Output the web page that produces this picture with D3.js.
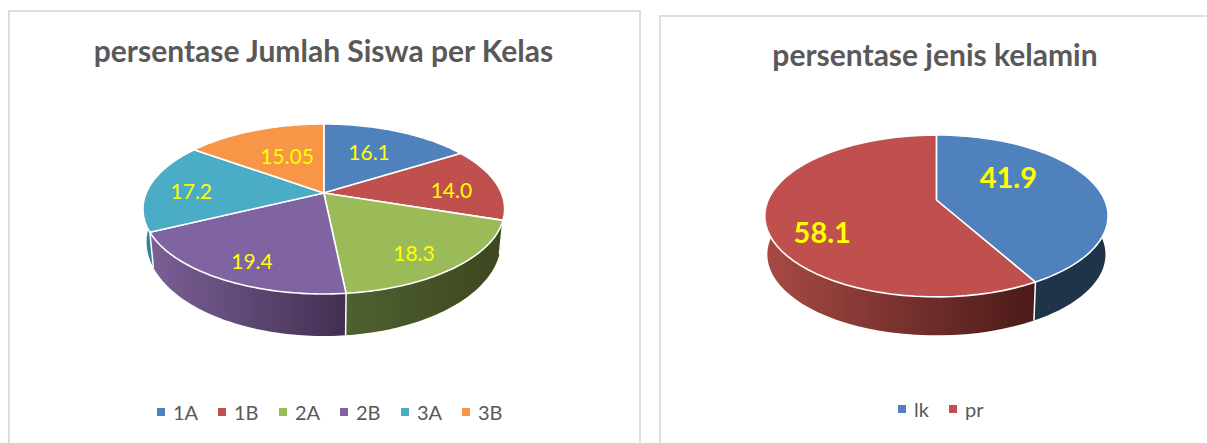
<!DOCTYPE html>
<html><head><meta charset="utf-8">
<style>html,body{margin:0;padding:0;background:#fff}svg{display:block}</style>
<script src="https://cdnjs.cloudflare.com/ajax/libs/d3/7.8.5/d3.min.js"></script>
</head><body><svg id="c" width="1207" height="443"></svg>
<script>
const classNames = ["1A","1B","2A","2B","3A","3B"];
const classValues = [16.1,14.0,18.3,19.4,17.2,15.05];
const classLabels = ["16.1","14.0","18.3","19.4","17.2","15.05"];
const genderNames = ["lk","pr"];
const genderValues = [41.9,58.1];
const genderLabels = ["41.9","58.1"];
const classColors = ["#4f81bd","#c0504d","#9bbb59","#8064a2","#4bacc6","#f79646"];
const genderColors = ["#4f81bd","#c0504d"];
const classWall = [["#2f4d71","#2f4d71"],["#772c2a","#772c2a"],["#4f6130","#3c461f"],["#7b6096","#412f51"],["#31859c","#2c7a90"],["#b65708","#b65708"]];
const genderWall = [["#1f3349","#1f3349"],["#a84a45","#4a1a18"]];
const classLabelR = [.62,.727,.783,.797,.75,.556];
const classLabelTurn = [-2,3,4,-3,-3,3];
const genderLabelR = [.56,.73];
const genderLabelTurn = [-21,-16];

const svg = d3.select("#c");
const defs = svg.append("defs");
const FONT = "Lato, 'Open Sans', sans-serif";
let gid = 0;

function panel(x, y, w){
  svg.append("path").attr("d", d3.line()([[x,443],[x,y],[x+w,y],[x+w,443]]))
    .attr("fill","none").attr("stroke","#dedede").attr("stroke-width",2);
}

function drawPie(o){
  const k=o.k, A=o.A, B=o.B;
  const proj = (u,v)=>{const d=1+k*v; return [o.cx+A*u/d, o.cy-B*v/d];};
  const low = (u,v)=>{const p=proj(u,v); return [o.cx+(p[0]-o.cx)*o.sx, o.cy+o.depth+(p[1]-o.cy)*o.sy];};
  const onRim=(f,a)=>f(Math.sin(a),Math.cos(a));
  const line=d3.line();
  const color=d3.scaleOrdinal(o.names,o.colors);
  const arcs=d3.pie().sort(null).value(d=>d.value)(o.names.map((n,i)=>({name:n,value:o.values[i],i})));
  const g=svg.append("g");
  const samples=a=>d3.range(0,61).map(t=>a.startAngle+(a.endAngle-a.startAngle)*t/60);

  arcs.forEach(a=>{
    const s=samples(a);
    const top=s.map(t=>onRim(proj,t)), bot=s.map(t=>onRim(low,t));
    const xs=bot.concat(top).map(p=>p[0]);
    const id="w"+(gid++);
    const gr=defs.append("linearGradient").attr("id",id).attr("gradientUnits","userSpaceOnUse")
      .attr("x1",d3.min(xs)).attr("x2",d3.max(xs)).attr("y1",0).attr("y2",0);
    gr.append("stop").attr("offset",0).attr("stop-color",o.wall[a.data.i][0]);
    gr.append("stop").attr("offset",1).attr("stop-color",o.wall[a.data.i][1]);
    g.append("path").attr("d",line(top.concat(bot.slice().reverse()))+"Z").attr("fill",`url(#${id})`);
  });
  arcs.forEach(a=>{
    g.append("path").attr("d",line([onRim(proj,a.startAngle),onRim(low,a.startAngle)]))
      .attr("stroke","#fff").attr("stroke-width",1.5).attr("fill","none");
  });
  arcs.forEach(a=>{
    const rim=samples(a).map(t=>onRim(proj,t));
    g.append("path").attr("d",line([[o.cx,o.cy]].concat(rim))+"Z")
      .attr("fill",color(a.data.name)).attr("stroke","#fff").attr("stroke-width",o.edge).attr("stroke-linejoin","round");
  });
  arcs.forEach(a=>{
    const t=(a.startAngle+a.endAngle)/2+o.labelTurn[a.data.i]*Math.PI/180, r=o.labelR[a.data.i];
    const p=proj(r*Math.sin(t),r*Math.cos(t));
    g.append("text").attr("x",p[0]).attr("y",p[1]).attr("text-anchor","middle").attr("dominant-baseline","central")
      .attr("font-family",FONT).attr("font-size",o.labelSize).attr("font-weight",o.labelWeight).attr("fill","#ffff00")
      .text(o.labels[a.data.i]);
  });
  svg.append("text").attr("x",o.titleX).attr("y",o.titleY).attr("text-anchor","middle")
    .attr("font-family",FONT).attr("font-size",o.titleSize).attr("font-weight",700).attr("fill","#595959").text(o.title);
  const lx=d3.scalePoint().domain(o.names).range(o.legendRange);
  const lg=svg.append("g");
  o.names.forEach(n=>{
    lg.append("rect").attr("x",lx(n)).attr("y",o.legendY-4).attr("width",8).attr("height",8).attr("fill",color(n));
    lg.append("text").attr("x",lx(n)+o.legendGap).attr("y",o.legendY).attr("dominant-baseline","central")
      .attr("font-family",FONT).attr("font-size",20).attr("fill","#595959").text(n);
  });
}

panel(9,11,631);
panel(660,16,560);

drawPie({names:classNames,values:classValues,labels:classLabels,colors:classColors,wall:classWall,
  labelR:classLabelR,labelTurn:classLabelTurn,labelSize:21,labelWeight:400,edge:1.6,
  cx:323.8,cy:193,k:.188,A:177.6,B:82,sx:.98,sy:1.109,depth:31,
  title:"persentase Jumlah Siswa per Kelas",titleX:323.5,titleY:62,titleSize:30,
  legendRange:[157,462],legendY:412,legendGap:16});
drawPie({names:genderNames,values:genderValues,labels:genderLabels,colors:genderColors,wall:genderWall,
  labelR:genderLabelR,labelTurn:genderLabelTurn,labelSize:29,labelWeight:700,edge:1.6,
  cx:936.4,cy:200,k:.197,A:168.3,B:77.8,sx:.985,sy:1,depth:38.5,
  title:"persentase jenis kelamin",titleX:935,titleY:66,titleSize:30,
  legendRange:[898,949],legendY:409,legendGap:16});
</script></body></html>
